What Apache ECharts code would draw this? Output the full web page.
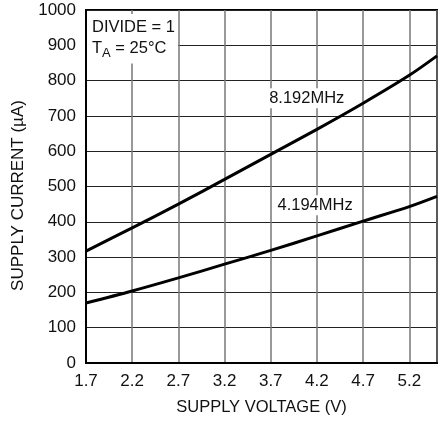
<!DOCTYPE html>
<html>
<head>
<meta charset="utf-8">
<script src="https://cdn.jsdelivr.net/npm/echarts@6/dist/echarts.min.js"></script>
<style>
  html, body { margin: 0; padding: 0; background: #fff; }
  #main { width: 445px; height: 421px; }
</style>
</head>
<body>
<div id="main"></div>
<script>
// supply voltage (V)
var voltage = [1.7, 2.2, 2.7, 3.2, 3.7, 4.2, 4.7, 5.2, 5.5];
// supply current (uA) per clock frequency
var current8192 = [317, 383, 450, 520, 591, 662, 736, 815, 870];
var current4194 = [170, 204, 241, 280, 319, 360, 402, 443, 472];
var seriesNames = ['8.192MHz', '4.194MHz'];
// label anchor points [V, uA]
var labelPos = [[4.09, 750], [4.18, 447]];

var FONT = '"Liberation Sans", Arial, sans-serif';

function pairs(xs, ys) {
    var out = [];
    for (var i = 0; i < xs.length; i++) {
        out.push([xs[i], ys[i]]);
    }
    return out;
}

function curve(name, ys, pos) {
    return {
        name: name,
        type: 'line',
        smooth: 0.3,
        symbol: 'none',
        lineStyle: { color: '#000', width: 3 },
        data: pairs(voltage, ys),
        markPoint: {
            symbol: 'circle',
            symbolSize: 0,
            data: [{ coord: pos }],
            label: {
                show: true,
                position: 'inside',
                formatter: name,
                color: '#111',
                fontFamily: FONT,
                fontSize: 16.5,
                backgroundColor: '#fff',
                padding: [2, 1, 1, 1]
            }
        }
    };
}

var myChart = echarts.init(document.getElementById('main'));

var option = {
    animation: false,
    backgroundColor: '#fff',
    title: {
        left: 87,
        top: 12,
        padding: [5, 3, 4, 5],
        backgroundColor: '#fff',
        text: '{a|DIVIDE = 1}\n{a|T}{s|A}{a| = 25°C}',
        textStyle: {
            fontWeight: 'normal',
            rich: {
                a: { fontFamily: FONT, fontSize: 16.5, fontWeight: 'normal', color: '#111', lineHeight: 21 },
                s: { fontFamily: FONT, fontSize: 13, fontWeight: 'normal', color: '#111', padding: [9, 0, 0, 0], lineHeight: 21 }
            }
        }
    },
    grid: {
        left: 86,
        right: 8,
        top: 10,
        bottom: 58,
        show: true,
        borderColor: '#000',
        borderWidth: 2,
        backgroundColor: 'transparent'
    },
    xAxis: {
        type: 'value',
        min: 1.7,
        max: 5.5,
        interval: 0.5,
        name: 'SUPPLY VOLTAGE (V)',
        nameLocation: 'middle',
        nameGap: 36,
        nameTextStyle: { fontFamily: FONT, fontSize: 16.5, color: '#111' },
        axisLine: { show: true, lineStyle: { color: '#000', width: 2 } },
        axisTick: { show: false },
        axisLabel: {
            fontFamily: FONT,
            fontSize: 17,
            color: '#111',
            margin: 10,
            showMaxLabel: false,
            formatter: function (v) { return v.toFixed(1); }
        },
        splitLine: { show: true, lineStyle: { color: '#777', width: 1.5 } }
    },
    yAxis: {
        type: 'value',
        min: 0,
        max: 1000,
        interval: 100,
        name: 'SUPPLY CURRENT (µA)',
        nameLocation: 'middle',
        nameGap: 50,
        nameTextStyle: { fontFamily: FONT, fontSize: 17, color: '#111', padding: [0, 18, 0, 0] },
        axisLine: { show: true, lineStyle: { color: '#000', width: 2 } },
        axisTick: { show: false },
        axisLabel: {
            fontFamily: FONT,
            fontSize: 17,
            color: '#111',
            margin: 10,
            formatter: function (v) { return String(v); }
        },
        splitLine: { show: true, lineStyle: { color: '#222', width: 1 } }
    },
    series: [
        curve(seriesNames[0], current8192, labelPos[0]),
        curve(seriesNames[1], current4194, labelPos[1])
    ]
};

myChart.setOption(option);
</script>
</body>
</html>
